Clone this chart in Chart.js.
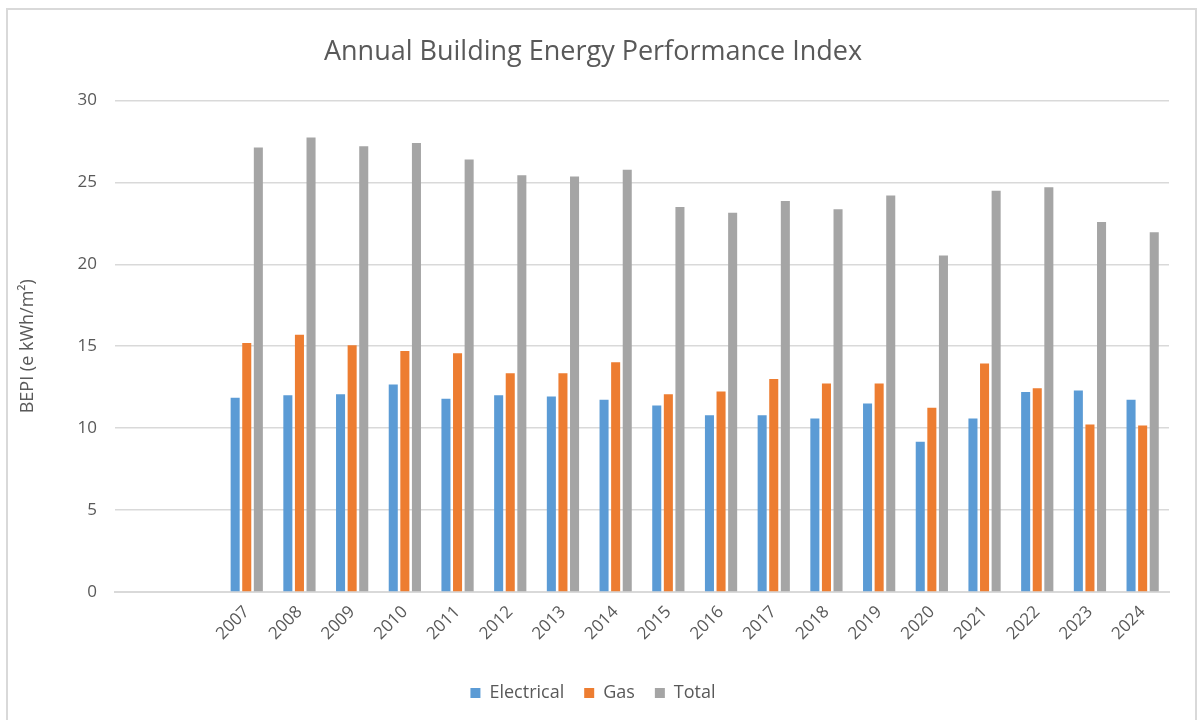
<!DOCTYPE html>
<html>
<head>
<meta charset="utf-8">
<script src="https://cdn.jsdelivr.net/npm/chart.js@4.4.0/dist/chart.umd.min.js"></script>
<style>
  body { margin: 0; background: #fff; }
  #wrap { position: relative; width: 1197px; height: 720px; overflow: hidden; }
  #frame { position: absolute; left: 6px; top: 8px; width: 1187px; height: 720px; border: 2px solid #d9d9d9; pointer-events: none; }
</style>
</head>
<body>
<div id="wrap">
  <canvas id="bepiChart" width="1197" height="720"></canvas>
  <div id="frame"></div>
</div>
<script>
// two blank categories before the first year, as in the sheet
const years = ['', '', '2007', '2008', '2009', '2010', '2011', '2012', '2013', '2014', '2015',
               '2016', '2017', '2018', '2019', '2020', '2021', '2022', '2023', '2024'];
const electrical = [null, null, 11.85, 12.0, 12.07, 12.66, 11.8, 12.0, 11.93, 11.73, 11.38,
                    10.79, 10.79, 10.59, 11.5, 9.17, 10.59, 12.21, 12.3, 11.73];
const gas = [null, null, 15.2, 15.7, 15.06, 14.7, 14.57, 13.35, 13.35, 14.02, 12.07,
             12.24, 13.0, 12.72, 12.72, 11.24, 13.94, 12.44, 10.22, 10.16];
const total = [null, null, 27.13, 27.74, 27.2, 27.4, 26.4, 25.43, 25.35, 25.77, 23.5,
               23.15, 23.86, 23.35, 24.2, 20.53, 24.49, 24.7, 22.58, 21.95];
const yTicks = [0, 5, 10, 15, 20, 25, 30];

const textColor = '#595959';
const gridColor = '#d9d9d9';
const fontFamily = '"Open Sans", "Liberation Sans", sans-serif';

const ctx = document.getElementById('bepiChart').getContext('2d');

const chart = new Chart(ctx, {
    type: 'bar',
    data: {
        labels: years,
        datasets: [
            { label: 'Electrical', data: electrical, backgroundColor: '#5b9bd5' },
            { label: 'Gas', data: gas, backgroundColor: '#ed7d31' },
            { label: 'Total', data: total, backgroundColor: '#a5a5a5' }
        ]
    },
    options: {
        responsive: false,
        animation: false,
        categoryPercentage: 0.66,
        barPercentage: 0.78,
        layout: { padding: { left: 17, right: 28, top: 0, bottom: 8 } },
        plugins: {
            title: {
                display: true,
                text: 'Annual Building Energy Performance Index',
                color: textColor,
                font: { family: fontFamily, size: 27, weight: 'normal' },
                padding: { top: 36, bottom: 32 }
            },
            legend: {
                position: 'bottom',
                labels: {
                    color: textColor,
                    font: { family: fontFamily, size: 18 },
                    boxWidth: 10,
                    boxHeight: 10,
                    padding: 20
                }
            },
            tooltip: { enabled: false }
        },
        scales: {
            x: {
                grid: { display: false },
                border: { color: gridColor, width: 2 },
                ticks: {
                    color: textColor,
                    font: { family: fontFamily, size: 17 },
                    minRotation: 45,
                    maxRotation: 45,
                    autoSkip: false,
                    padding: 2
                },
                afterFit: (scale) => { scale.height = 72; }
            },
            y: {
                min: 0,
                max: 30,
                afterBuildTicks: (scale) => { scale.ticks = yTicks.map(v => ({ value: v })); },
                grid: { color: gridColor, lineWidth: 1.5, drawTicks: false },
                border: { display: false },
                ticks: {
                    color: textColor,
                    font: { family: fontFamily, size: 17 },
                    padding: 18
                },
                title: {
                    display: true,
                    text: 'BEPI (e kWh/m\u00b2)',
                    color: textColor,
                    font: { family: fontFamily, size: 18 },
                    padding: 0
                },
                afterFit: (scale) => { scale.width = 98; }
            }
        }
    }
});
</script>
</body>
</html>
